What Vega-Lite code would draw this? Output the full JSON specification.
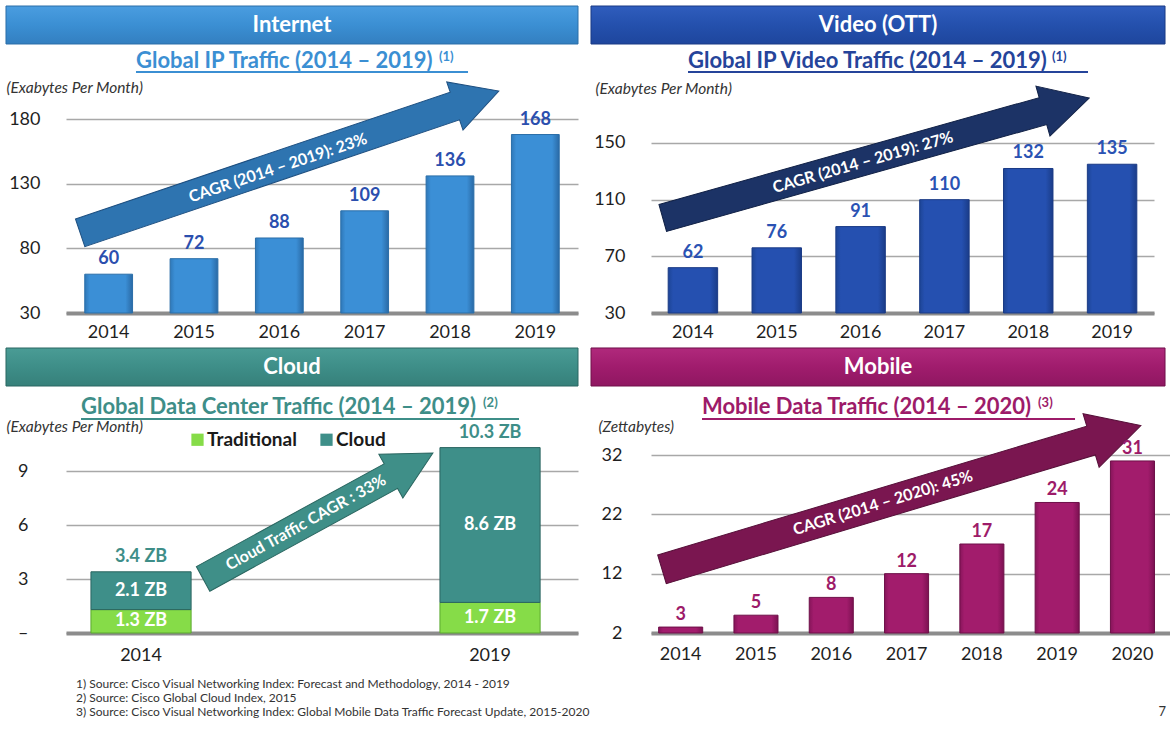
{
  "$schema": "https://vega.github.io/schema/vega-lite/v6.json",
  "padding": {"left": 5, "top": 5, "right": 0, "bottom": 0},
  "background": "#ffffff",
  "config": {
    "font": "Lato",
    "view": {"stroke": null},
    "axisY": {"grid": true, "gridColor": "#a8a8a8", "gridWidth": 1.5, "domain": false, "ticks": false, "labelFont": "Lato", "labelFontSize": 18, "labelColor": "#1f1f1f", "labelPadding": 26, "titleAngle": 0, "titleAlign": "left", "titleBaseline": "middle", "titleFont": "Lato", "titleFontSize": 15.5, "titleFontStyle": "italic", "titleFontWeight": "normal", "titleColor": "#333333"},
    "axisX": {"grid": false, "domain": true, "domainColor": "#8c8c8c", "domainWidth": 4, "ticks": false, "labelAngle": 0, "labelFont": "Lato", "labelFontSize": 18, "labelColor": "#1f1f1f", "labelPadding": 10}
  },
  "spacing": 13,
  "resolve": {"scale": {"color": "independent", "stroke": "independent"}},
  "vconcat": [
    {
      "spacing": 6,
      "resolve": {"scale": {"color": "independent", "stroke": "independent"}},
      "vconcat": [
        {
          "spacing": 11,
          "hconcat": [
            {
              "width": 512, "height": 194,
              "resolve": {"scale": {"x": "independent"}},
              "layer": [
                {"data": {"values": [{}]}, "mark": {"type": "rect", "fill": {"gradient": "linear", "x1": 0, "y1": 0, "x2": 0, "y2": 1, "stops": [{"offset": 0, "color": "#4a9de0"}, {"offset": 0.5, "color": "#3b8fd3"}, {"offset": 1, "color": "#337fc0"}]}, "stroke": "#2b6ea8", "strokeWidth": 1},
                 "encoding": {"x": {"datum": -0.1172, "type": "quantitative", "scale": {"domain": [0, 1], "nice": false}, "axis": null}, "x2": {"datum": 1}, "y": {"datum": 267.37, "type": "quantitative"}, "y2": {"datum": 237.99}}},
                {"data": {"values": [{}]}, "mark": {"type": "text", "text": "Internet", "fontSize": 22, "fontWeight": "bold", "color": "#ffffff", "align": "center", "baseline": "middle"},
                 "encoding": {"x": {"datum": 0.4414, "type": "quantitative", "scale": {"domain": [0, 1], "nice": false}, "axis": null}, "y": {"datum": 252.68, "type": "quantitative"}}},
                {"data": {"values": [{}]}, "mark": {"type": "point", "shape": "M-1,-0.066L0.79,-0.066L0.79,-0.115L1,0L0.79,0.115L0.79,0.066L-1,0.066Z", "size": 195364, "angle": -18.7, "filled": true, "fill": "#2e74b0", "stroke": "#1d4f80", "strokeWidth": 1, "opacity": 1},
                 "encoding": {"x": {"datum": 0.4365, "type": "quantitative", "scale": {"domain": [0, 1], "nice": false}, "axis": null}, "y": {"datum": 146.8, "type": "quantitative"}}},
                {"data": {"values": [{}]}, "mark": {"type": "text", "text": "CAGR (2014 – 2019): 23%", "angle": -18.5, "fontSize": 16, "fontWeight": "bold", "color": "#ffffff", "align": "center", "baseline": "middle"},
                 "encoding": {"x": {"datum": 0.414, "type": "quantitative", "scale": {"domain": [0, 1], "nice": false}, "axis": null}, "y": {"datum": 142.1, "type": "quantitative"}}},
                {
                  "data": {"values": [{"year": "2014", "traffic": 60}, {"year": "2015", "traffic": 72}, {"year": "2016", "traffic": 88}, {"year": "2017", "traffic": 109}, {"year": "2018", "traffic": 136}, {"year": "2019", "traffic": 168}]},
                  "encoding": {
                    "x": {"field": "year", "type": "ordinal", "title": null, "scale": {"paddingInner": 0.44, "paddingOuter": 0.22}},
                    "y": {"field": "traffic", "type": "quantitative", "scale": {"domain": [30, 180], "nice": false, "zero": false}, "axis": {"values": [30, 80, 130, 180], "title": "(Exabytes Per Month)", "titleX": -60, "titleY": -32}}
                  },
                  "layer": [
                    {"mark": {"type": "bar", "color": {"gradient": "linear", "x1": 0, "y1": 0, "x2": 1, "y2": 0, "stops": [{"offset": 0, "color": "#2f78b8"}, {"offset": 0.1, "color": "#3b8fd6"}, {"offset": 0.85, "color": "#3b8fd6"}, {"offset": 1, "color": "#2a6aa6"}]}, "stroke": "#2a6ea8", "strokeWidth": 1}, "encoding": {"y2": {"datum": 30}}},
                    {"mark": {"type": "text", "baseline": "bottom", "dy": -6, "fontSize": 18, "fontWeight": "bold", "color": "#2b4fae"}, "encoding": {"text": {"field": "traffic", "type": "quantitative"}}}
                  ]
                },
                {"data": {"values": [{}]}, "mark": {"type": "text", "text": "Global IP Traffic (2014 – 2019)", "fontSize": 22, "fontWeight": "bold", "color": "#3b8fd3", "align": "left", "baseline": "alphabetic"},
                 "encoding": {"x": {"datum": 0.1367, "type": "quantitative", "scale": {"domain": [0, 1], "nice": false}, "axis": null}, "y": {"datum": 219.4, "type": "quantitative"}}},
                {"data": {"values": [{}]}, "mark": {"type": "text", "text": "(1)", "fontSize": 13, "fontWeight": "bold", "color": "#3b8fd3", "align": "left", "baseline": "alphabetic"},
                 "encoding": {"x": {"datum": 0.7285, "type": "quantitative", "scale": {"domain": [0, 1], "nice": false}, "axis": null}, "y": {"datum": 224.8, "type": "quantitative"}}},
                {"data": {"values": [{}]}, "mark": {"type": "rule", "color": "#3b8fd3", "strokeWidth": 2},
                 "encoding": {"x": {"datum": 0.1367, "type": "quantitative", "scale": {"domain": [0, 1], "nice": false}, "axis": null}, "x2": {"datum": 0.7852}, "y": {"datum": 216.3, "type": "quantitative"}}}
              ]
            },
            {
              "width": 503, "height": 194,
              "resolve": {"scale": {"x": "independent"}},
              "layer": [
                {"data": {"values": [{}]}, "mark": {"type": "rect", "fill": {"gradient": "linear", "x1": 0, "y1": 0, "x2": 0, "y2": 1, "stops": [{"offset": 0, "color": "#2f5dbd"}, {"offset": 0.5, "color": "#2450ad"}, {"offset": 1, "color": "#1e469d"}]}, "stroke": "#1a3b85", "strokeWidth": 1},
                 "encoding": {"x": {"datum": -0.1193, "type": "quantitative", "scale": {"domain": [0, 1], "nice": false}, "axis": null}, "x2": {"datum": 1.0219}, "y": {"datum": 246.7, "type": "quantitative"}, "y2": {"datum": 219.88}}},
                {"data": {"values": [{}]}, "mark": {"type": "text", "text": "Video (OTT)", "fontSize": 22, "fontWeight": "bold", "color": "#ffffff", "align": "center", "baseline": "middle"},
                 "encoding": {"x": {"datum": 0.4513, "type": "quantitative", "scale": {"domain": [0, 1], "nice": false}, "axis": null}, "y": {"datum": 233.29, "type": "quantitative"}}},
                {"data": {"values": [{}]}, "mark": {"type": "point", "shape": "M-1,-0.063L0.783,-0.063L0.783,-0.117L1,0L0.783,0.117L0.783,0.063L-1,0.063Z", "size": 196249, "angle": -15.7, "filled": true, "fill": "#1c3366", "stroke": "#0f1f44", "strokeWidth": 1, "opacity": 1},
                 "encoding": {"x": {"datum": 0.4473, "type": "quantitative", "scale": {"domain": [0, 1], "nice": false}, "axis": null}, "y": {"datum": 139.4, "type": "quantitative"}}},
                {"data": {"values": [{}]}, "mark": {"type": "text", "text": "CAGR (2014 – 2019): 27%", "angle": -16, "fontSize": 16, "fontWeight": "bold", "color": "#ffffff", "align": "center", "baseline": "middle"},
                 "encoding": {"x": {"datum": 0.4215, "type": "quantitative", "scale": {"domain": [0, 1], "nice": false}, "axis": null}, "y": {"datum": 136.2, "type": "quantitative"}}},
                {
                  "data": {"values": [{"year": "2014", "traffic": 62}, {"year": "2015", "traffic": 76}, {"year": "2016", "traffic": 91}, {"year": "2017", "traffic": 110}, {"year": "2018", "traffic": 132}, {"year": "2019", "traffic": 135}]},
                  "encoding": {
                    "x": {"field": "year", "type": "ordinal", "title": null, "scale": {"paddingInner": 0.41, "paddingOuter": 0.205}},
                    "y": {"field": "traffic", "type": "quantitative", "scale": {"domain": [30, 166.94], "nice": false, "zero": false}, "axis": {"values": [30, 70, 110, 150], "title": "(Exabytes Per Month)", "titleX": -56, "titleY": -31}}
                  },
                  "layer": [
                    {"mark": {"type": "bar", "color": {"gradient": "linear", "x1": 0, "y1": 0, "x2": 1, "y2": 0, "stops": [{"offset": 0, "color": "#1d4596"}, {"offset": 0.1, "color": "#2550b0"}, {"offset": 0.85, "color": "#2550b0"}, {"offset": 1, "color": "#1a3c88"}]}, "stroke": "#1a3a85", "strokeWidth": 1}, "encoding": {"y2": {"datum": 30}}},
                    {"mark": {"type": "text", "baseline": "bottom", "dy": -6, "fontSize": 18, "fontWeight": "bold", "color": "#2a52b3"}, "encoding": {"text": {"field": "traffic", "type": "quantitative"}}}
                  ]
                },
                {"data": {"values": [{}]}, "mark": {"type": "text", "text": "Global IP Video Traffic (2014 – 2019)", "fontSize": 22, "fontWeight": "bold", "color": "#25449a", "align": "left", "baseline": "alphabetic"},
                 "encoding": {"x": {"datum": 0.0736, "type": "quantitative", "scale": {"domain": [0, 1], "nice": false}, "axis": null}, "y": {"datum": 202.9, "type": "quantitative"}}},
                {"data": {"values": [{}]}, "mark": {"type": "text", "text": "(1)", "fontSize": 13, "fontWeight": "bold", "color": "#25449a", "align": "left", "baseline": "alphabetic"},
                 "encoding": {"x": {"datum": 0.797, "type": "quantitative", "scale": {"domain": [0, 1], "nice": false}, "axis": null}, "y": {"datum": 207.9, "type": "quantitative"}}},
                {"data": {"values": [{}]}, "mark": {"type": "rule", "color": "#25449a", "strokeWidth": 2},
                 "encoding": {"x": {"datum": 0.0736, "type": "quantitative", "scale": {"domain": [0, 1], "nice": false}, "axis": null}, "x2": {"datum": 0.8688}, "y": {"datum": 200.1, "type": "quantitative"}}}
              ]
            }
          ]
        },
        {
          "spacing": 11,
          "resolve": {"scale": {"color": "independent", "stroke": "independent"}},
          "hconcat": [
            {
              "width": 512, "height": 189,
              "resolve": {"scale": {"x": "independent"}},
              "layer": [
                {"data": {"values": [{}]}, "mark": {"type": "rect", "fill": {"gradient": "linear", "x1": 0, "y1": 0, "x2": 0, "y2": 1, "stops": [{"offset": 0, "color": "#4a9c95"}, {"offset": 0.5, "color": "#3e8e88"}, {"offset": 1, "color": "#36807a"}]}, "stroke": "#2b6762", "strokeWidth": 1},
                 "encoding": {"x": {"datum": -0.1172, "type": "quantitative", "scale": {"domain": [0, 1], "nice": false}, "axis": null}, "x2": {"datum": 1}, "y": {"datum": 15.833, "type": "quantitative"}, "y2": {"datum": 13.722}}},
                {"data": {"values": [{}]}, "mark": {"type": "text", "text": "Cloud", "fontSize": 22, "fontWeight": "bold", "color": "#ffffff", "align": "center", "baseline": "middle"},
                 "encoding": {"x": {"datum": 0.4414, "type": "quantitative", "scale": {"domain": [0, 1], "nice": false}, "axis": null}, "y": {"datum": 14.778, "type": "quantitative"}}},
                {"data": {"values": [{}]}, "mark": {"type": "point", "shape": "M-1,-0.107L0.634,-0.107L0.634,-0.191L1,0L0.634,0.191L0.634,0.107L-1,0.107Z", "size": 68644, "angle": -28.7, "filled": true, "fill": "#3f8f88", "stroke": "#2a6660", "strokeWidth": 1, "opacity": 1},
                 "encoding": {"x": {"datum": 0.4922, "type": "quantitative", "scale": {"domain": [0, 1], "nice": false}, "axis": null}, "y": {"datum": 6.5, "type": "quantitative"}}},
                {"data": {"values": [{}]}, "mark": {"type": "text", "text": "Cloud Traffic CAGR : 33%", "angle": -29, "fontSize": 16, "fontWeight": "bold", "color": "#ffffff", "align": "center", "baseline": "middle"},
                 "encoding": {"x": {"datum": 0.4688, "type": "quantitative", "scale": {"domain": [0, 1], "nice": false}, "axis": null}, "y": {"datum": 6.13, "type": "quantitative"}}},
                {
                  "data": {"values": [{"year": "2014", "series": "Traditional", "value": 1.3, "label": "1.3 ZB"}, {"year": "2014", "series": "Cloud", "value": 2.1, "label": "2.1 ZB"}, {"year": "2019", "series": "Traditional", "value": 1.7, "label": "1.7 ZB"}, {"year": "2019", "series": "Cloud", "value": 8.6, "label": "8.6 ZB"}]},
                  "layer": [
                    {"mark": {"type": "bar", "strokeWidth": 1},
                     "encoding": {
                       "x": {"field": "year", "type": "ordinal", "title": null, "scale": {"paddingInner": 0.713, "paddingOuter": 0.09, "align": 0.397}, "axis": {"labelPadding": 13}},
                       "y": {"field": "value", "type": "quantitative", "stack": "zero", "scale": {"domain": [0, 10.5], "nice": false}, "axis": {"values": [0, 3, 6, 9], "labelExpr": "datum.value === 0 ? '–' : datum.label", "labelPadding": 38, "title": "(Exabytes Per Month)", "titleX": -60, "titleY": -18}},
                       "color": {"field": "series", "type": "nominal", "scale": {"domain": ["Traditional", "Cloud"], "range": ["#86dc48", "#3e8f89"]},
                         "legend": {"orient": "none", "legendX": 122, "legendY": -14, "direction": "horizontal", "title": null, "padding": 0, "symbolType": "square", "symbolSize": 150, "symbolStrokeWidth": 0, "labelFont": "Lato", "labelFontSize": 19, "labelFontWeight": "bold", "labelColor": "#1a1a1a", "columnPadding": 20, "labelOffset": 0}},
                       "stroke": {"field": "series", "type": "nominal", "scale": {"domain": ["Traditional", "Cloud"], "range": ["#5aa82e", "#2b6560"]}, "legend": null},
                       "order": {"field": "series", "sort": "descending"}
                     }},
                    {"transform": [
                       {"stack": "value", "groupby": ["year"], "sort": [{"field": "series", "order": "descending"}], "as": ["y0", "y1"]},
                       {"fold": ["y0", "y1"], "as": ["k", "pos"]}
                     ],
                     "mark": {"type": "text", "baseline": "middle", "fontSize": 18, "fontWeight": "bold", "color": "#ffffff"},
                     "encoding": {
                       "x": {"field": "year", "type": "ordinal", "scale": {"paddingInner": 0.713, "paddingOuter": 0.09, "align": 0.397}},
                       "y": {"aggregate": "mean", "field": "pos", "type": "quantitative"},
                       "text": {"field": "label", "type": "nominal"}
                     }},
                    {"data": {"values": [{"year": "2014", "total": 3.4, "label": "3.4 ZB"}, {"year": "2019", "total": 10.3, "label": "10.3 ZB"}]},
                     "mark": {"type": "text", "baseline": "bottom", "dy": -6, "fontSize": 18, "fontWeight": "bold", "color": "#3e8e88"},
                     "encoding": {
                       "x": {"field": "year", "type": "ordinal", "scale": {"paddingInner": 0.713, "paddingOuter": 0.09, "align": 0.397}},
                       "y": {"field": "total", "type": "quantitative"},
                       "text": {"field": "label", "type": "nominal"}
                     }}
                  ]
                },
                {"data": {"values": [{}]}, "mark": {"type": "text", "text": "Global Data Center Traffic (2014 – 2019)", "fontSize": 22, "fontWeight": "bold", "color": "#3e8e88", "align": "left", "baseline": "alphabetic"},
                 "encoding": {"x": {"datum": 0.0293, "type": "quantitative", "scale": {"domain": [0, 1], "nice": false}, "axis": null}, "y": {"datum": 12.17, "type": "quantitative"}}},
                {"data": {"values": [{}]}, "mark": {"type": "text", "text": "(2)", "fontSize": 13, "fontWeight": "bold", "color": "#3e8e88", "align": "left", "baseline": "alphabetic"},
                 "encoding": {"x": {"datum": 0.8145, "type": "quantitative", "scale": {"domain": [0, 1], "nice": false}, "axis": null}, "y": {"datum": 12.56, "type": "quantitative"}}},
                {"data": {"values": [{}]}, "mark": {"type": "rule", "color": "#3e8e88", "strokeWidth": 2},
                 "encoding": {"x": {"datum": 0.0293, "type": "quantitative", "scale": {"domain": [0, 1], "nice": false}, "axis": null}, "x2": {"datum": 0.8848}, "y": {"datum": 11.89, "type": "quantitative"}}}
              ]
            },
            {
              "width": 519, "height": 189,
              "resolve": {"scale": {"x": "independent"}},
              "layer": [
                {"data": {"values": [{}]}, "mark": {"type": "rect", "fill": {"gradient": "linear", "x1": 0, "y1": 0, "x2": 0, "y2": 1, "stops": [{"offset": 0, "color": "#b0297c"}, {"offset": 0.5, "color": "#a01c6d"}, {"offset": 1, "color": "#8f1761"}]}, "stroke": "#70104b", "strokeWidth": 1},
                 "encoding": {"x": {"datum": -0.1156, "type": "quantitative", "scale": {"domain": [0, 1], "nice": false}, "axis": null}, "x2": {"datum": 0.9904}, "y": {"datum": 50.04, "type": "quantitative"}, "y2": {"datum": 43.63}}},
                {"data": {"values": [{}]}, "mark": {"type": "text", "text": "Mobile", "fontSize": 22, "fontWeight": "bold", "color": "#ffffff", "align": "center", "baseline": "middle"},
                 "encoding": {"x": {"datum": 0.4374, "type": "quantitative", "scale": {"domain": [0, 1], "nice": false}, "axis": null}, "y": {"datum": 46.83, "type": "quantitative"}}},
                {"data": {"values": [{}]}, "mark": {"type": "point", "shape": "M-1,-0.06L0.792,-0.06L0.792,-0.112L1,0L0.792,0.112L0.792,0.06L-1,0.06Z", "size": 250000, "angle": -16.7, "filled": true, "fill": "#7a1650", "stroke": "#550f38", "strokeWidth": 1, "opacity": 1},
                 "encoding": {"x": {"datum": 0.4825, "type": "quantitative", "scale": {"domain": [0, 1], "nice": false}, "axis": null}, "y": {"datum": 24.85, "type": "quantitative"}}},
                {"data": {"values": [{}]}, "mark": {"type": "text", "text": "CAGR (2014 – 2020): 45%", "angle": -17, "fontSize": 16, "fontWeight": "bold", "color": "#ffffff", "align": "center", "baseline": "middle"},
                 "encoding": {"x": {"datum": 0.447, "type": "quantitative", "scale": {"domain": [0, 1], "nice": false}, "axis": null}, "y": {"datum": 23.9, "type": "quantitative"}}},
                {
                  "data": {"values": [{"year": "2014", "traffic": 3}, {"year": "2015", "traffic": 5}, {"year": "2016", "traffic": 8}, {"year": "2017", "traffic": 12}, {"year": "2018", "traffic": 17}, {"year": "2019", "traffic": 24}, {"year": "2020", "traffic": 31}]},
                  "encoding": {
                    "x": {"field": "year", "type": "ordinal", "title": null, "scale": {"paddingInner": 0.415, "paddingOuter": 0.1537, "align": 0.33}, "axis": {"labelPadding": 12}},
                    "y": {"field": "traffic", "type": "quantitative", "scale": {"domain": [2, 33.855], "nice": false, "zero": false}, "axis": {"values": [2, 12, 22, 32], "labelPadding": 29, "title": "(Zettabytes)", "titleX": -53, "titleY": -18}}
                  },
                  "layer": [
                    {"mark": {"type": "bar", "color": {"gradient": "linear", "x1": 0, "y1": 0, "x2": 1, "y2": 0, "stops": [{"offset": 0, "color": "#86155a"}, {"offset": 0.1, "color": "#a21c6c"}, {"offset": 0.85, "color": "#a21c6c"}, {"offset": 1, "color": "#7c1152"}]}, "stroke": "#6e0f48", "strokeWidth": 1}, "encoding": {"y2": {"datum": 2}}},
                    {"mark": {"type": "text", "baseline": "bottom", "dy": -3, "fontSize": 18, "fontWeight": "bold", "color": "#9d1b69"}, "encoding": {"text": {"field": "traffic", "type": "quantitative"}}}
                  ]
                },
                {"data": {"values": [{}]}, "mark": {"type": "text", "text": "Mobile Data Traffic (2014 – 2020)", "fontSize": 22, "fontWeight": "bold", "color": "#9d1b69", "align": "left", "baseline": "alphabetic"},
                 "encoding": {"x": {"datum": 0.0983, "type": "quantitative", "scale": {"domain": [0, 1], "nice": false}, "axis": null}, "y": {"datum": 38.91, "type": "quantitative"}}},
                {"data": {"values": [{}]}, "mark": {"type": "text", "text": "(3)", "fontSize": 13, "fontWeight": "bold", "color": "#9d1b69", "align": "left", "baseline": "alphabetic"},
                 "encoding": {"x": {"datum": 0.7457, "type": "quantitative", "scale": {"domain": [0, 1], "nice": false}, "axis": null}, "y": {"datum": 40.09, "type": "quantitative"}}},
                {"data": {"values": [{}]}, "mark": {"type": "rule", "color": "#9d1b69", "strokeWidth": 2},
                 "encoding": {"x": {"datum": 0.0983, "type": "quantitative", "scale": {"domain": [0, 1], "nice": false}, "axis": null}, "x2": {"datum": 0.817}, "y": {"datum": 38.07, "type": "quantitative"}}}
              ]
            }
          ]
        }
      ]
    },
    {
      "width": 1100, "height": 42,
      "layer": [
        {"data": {"values": [{"line": 1, "note": "1) Source: Cisco Visual Networking Index: Forecast and Methodology, 2014 - 2019"}, {"line": 2, "note": "2) Source: Cisco Global Cloud Index, 2015"}, {"line": 3, "note": "3) Source: Cisco Visual Networking Index: Global Mobile Data Traffic Forecast Update, 2015-2020"}]},
         "mark": {"type": "text", "align": "left", "baseline": "middle", "fontSize": 12, "color": "#333333"},
         "encoding": {"x": {"datum": 0.0091, "type": "quantitative", "scale": {"domain": [0, 1], "nice": false}, "axis": null}, "y": {"field": "line", "type": "ordinal", "axis": null, "scale": {"paddingInner": 0, "paddingOuter": 0}}, "text": {"field": "note", "type": "nominal"}}},
        {"data": {"values": [{}]}, "mark": {"type": "text", "text": "7", "align": "right", "baseline": "middle", "fontSize": 13, "color": "#333333"},
         "encoding": {"x": {"datum": 1, "type": "quantitative", "scale": {"domain": [0, 1], "nice": false}, "axis": null}, "y": {"datum": 3, "type": "ordinal", "axis": null}}}
      ]
    }
  ]
}
